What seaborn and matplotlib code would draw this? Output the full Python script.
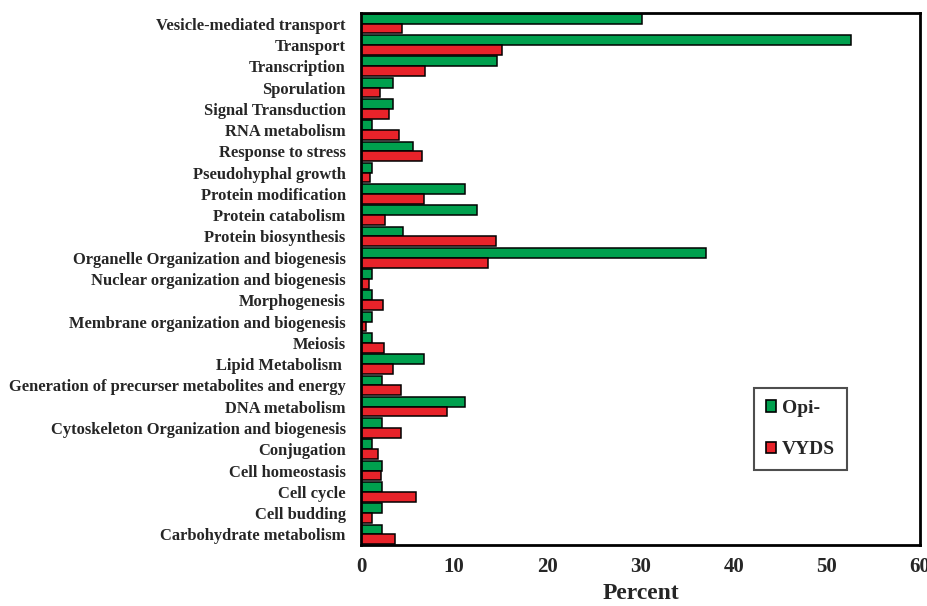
import numpy as np
import pandas as pd
import matplotlib
matplotlib.use("Agg")
import matplotlib.pyplot as plt
import seaborn as sns

# Categories, top to bottom as in the figure
categories = [
    "Vesicle-mediated transport", "Transport", "Transcription", "Sporulation",
    "Signal Transduction", "RNA metabolism", "Response to stress",
    "Pseudohyphal growth", "Protein modification", "Protein catabolism",
    "Protein biosynthesis", "Organelle Organization and biogenesis",
    "Nuclear organization and biogenesis", "Morphogenesis",
    "Membrane organization and biogenesis", "Meiosis", "Lipid Metabolism ",
    "Generation of precurser metabolites and energy", "DNA metabolism",
    "Cytoskeleton Organization and biogenesis", "Conjugation",
    "Cell homeostasis", "Cell cycle", "Cell budding", "Carbohydrate metabolism",
]

opi = [30.2, 52.6, 14.6, 3.4, 3.4, 1.2, 5.6, 1.2, 11.2, 12.4, 4.5, 37.0, 1.2,
       1.2, 1.2, 1.2, 6.8, 2.3, 11.2, 2.3, 1.2, 2.3, 2.3, 2.3, 2.3]
vyds = [4.4, 15.1, 6.9, 2.0, 3.0, 4.1, 6.6, 1.0, 6.8, 2.6, 14.5, 13.6, 0.9,
        2.4, 0.5, 2.5, 3.4, 4.3, 9.2, 4.3, 1.8, 2.1, 5.9, 1.2, 3.6]

series = ["Opi-", "VYDS"]
colors = {"Opi-": "#00a04e", "VYDS": "#e8232a"}
x_ticks = [0, 10, 20, 30, 40, 50, 60]

df = pd.DataFrame({
    "Category": categories * 2,
    "Percent": opi + vyds,
    "Group": ["Opi-"] * len(categories) + ["VYDS"] * len(categories),
})

sns.set_style("white")
plt.rcParams["font.family"] = ["Liberation Serif", "DejaVu Serif"]
plt.rcParams["font.weight"] = "bold"

fig = plt.figure(figsize=(9.27, 6.06), dpi=100)
ax = fig.add_axes([0.3894, 0.1007, 0.6031, 0.8778])

sns.barplot(data=df, y="Category", x="Percent", hue="Group", order=categories,
            hue_order=series, palette=colors, orient="h", width=0.92,
            saturation=1, edgecolor="black", linewidth=1.1, ax=ax)

ax.set_xlim(0, 60)
n = len(categories)
ax.set_ylim(n - 0.5, -0.5)
ax.set_xticks(x_ticks)
ax.set_xticklabels([str(t) for t in x_ticks], fontsize=15, fontweight="bold")

# labels at category centres, tick marks at boundaries
ax.set_yticks(np.arange(n))
ax.set_yticklabels(categories, fontsize=11.9, fontweight="bold")
ax.tick_params(axis="y", which="major", length=0, pad=11)
ax.set_yticks(np.arange(n + 1) - 0.5, minor=True)
ax.tick_params(axis="y", which="minor", length=5, width=1.5, direction="out")
ax.tick_params(axis="x", length=5, width=1.5, direction="out", pad=4)

ax.set_ylabel("")
ax.set_xlabel("Percent", fontsize=17, fontweight="bold", labelpad=4)

for s in ax.spines.values():
    s.set_visible(True)
    s.set_color("black")
    s.set_linewidth(2)

leg = ax.legend(loc="lower left", bbox_to_anchor=(0.703, 0.141), frameon=True,
                fancybox=False, edgecolor="#222222",
                prop={"weight": "bold", "size": 14}, handlelength=0.55,
                handleheight=0.55, handletextpad=0.3, labelspacing=1.25,
                borderpad=0.6, borderaxespad=0)
leg.get_frame().set_linewidth(1.5)
for h in leg.legend_handles:
    h.set_edgecolor("black")
    h.set_linewidth(1.2)

fig.savefig("out.png", dpi=100)
